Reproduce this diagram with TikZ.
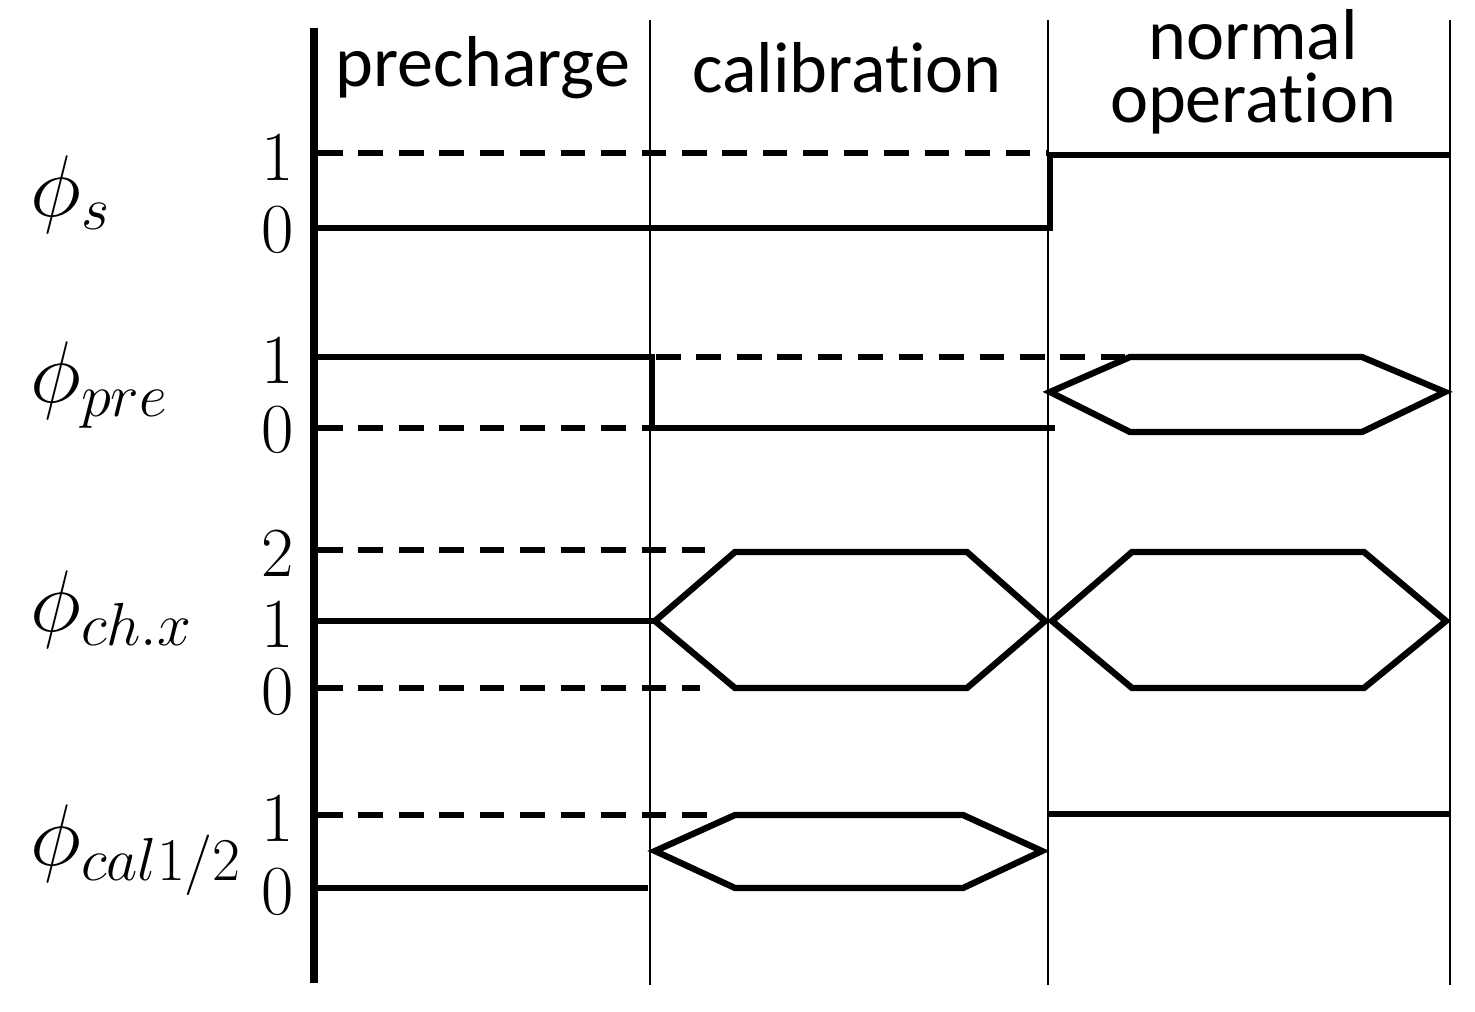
\documentclass[tikz,border=0pt]{standalone}
\usepackage{fontspec}
\setsansfont[Ligatures=NoCommon]{Carlito}
\begin{document}
\begin{tikzpicture}[x=0.01cm,y=-0.01cm,
  sig/.style={line width=1.8pt},
  dsig/.style={line width=1.8pt,dash pattern=on 7pt off 4.5pt},
  sep/.style={line width=0.5pt},
  hdr/.style={font=\sffamily\fontsize{20.5}{22}\selectfont,align=center},
  lev/.style={font=\fontsize{20}{22}\selectfont,anchor=center},
  nm/.style={font=\fontsize{24}{26}\selectfont,anchor=west}]
\useasboundingbox (0,0) rectangle (1475,1012);
% axes
\draw[line width=2.4pt] (314,28) -- (314,983);
\foreach \x in {650,1048,1450} \draw[sep] (\x,20) -- (\x,985);
% headers
\node[hdr] (h1) at (483,68) {precharge};
\node[hdr] (h2) at (847,68) {calibration};
\node[hdr] (h3) at (1253,72) {normal\\[-4pt]operation};
% names
\node[nm] (n1) at (18,195) {$\phi_s$};
\node[nm] (n2) at (18,385) {$\phi_{pre}$};
\node[nm] (n3) at (18,610) {$\phi_{ch.x}$};
\node[nm] (n4) at (18,850) {$\phi_{cal1/2}$};
% levels
\node[lev] at (278,157) {1};
\node[lev] at (278,230) {0};
\node[lev] at (278,360) {1};
\node[lev] at (278,430) {0};
\node[lev] at (278,553) {2};
\node[lev] at (278,624) {1};
\node[lev] at (278,692) {0};
\node[lev] at (278,818) {1};
\node[lev] at (278,892) {0};
% phi_s
\draw[dsig] (318,153) -- (1048,153);
\draw[sig] (316,228) -- (1050,228) -- (1050,155) -- (1450,155);
% phi_pre
\draw[sig] (316,357) -- (652,357) -- (652,428) -- (1055,428);
\draw[dsig] (318,428) -- (650,428);
\draw[dsig] (656,357) -- (1125,357);
\draw[sig] (1050,392) -- (1130,357) -- (1362,357) -- (1445,392) -- (1362,432) -- (1130,432) -- cycle;
% phi_ch.x
\draw[dsig] (318,550) -- (705,550);
\draw[dsig] (318,688) -- (700,688);
\draw[sig] (316,621) -- (655,621);
\draw[sig] (655,621) -- (735,552) -- (967,552) -- (1045,621) -- (967,688) -- (735,688) -- cycle;
\draw[sig] (1052,621) -- (1132,552) -- (1364,552) -- (1446,621) -- (1364,688) -- (1132,688) -- cycle;
% phi_cal
\draw[dsig] (318,815) -- (720,815);
\draw[sig] (316,888) -- (648,888);
\draw[sig] (655,851) -- (735,815) -- (963,815) -- (1042,851) -- (963,888) -- (735,888) -- cycle;
\draw[sig] (1048,814) -- (1450,814);
\end{tikzpicture}
\end{document}
